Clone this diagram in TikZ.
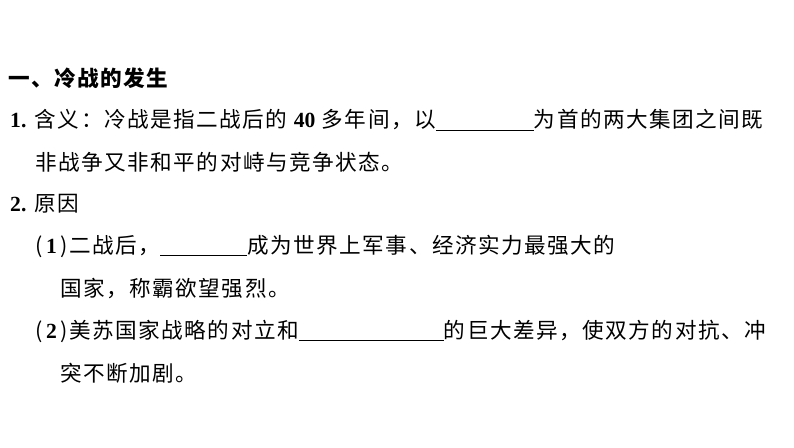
\documentclass[tikz,border=0pt]{standalone}
\usepackage{fontspec}
\setmainfont[LetterSpace=7]{Noto Sans CJK SC}
\newfontfamily\numf{Liberation Serif}
\newcommand{\blank}[1]{\rule[-3pt]{#1pt}{0.6pt}}
\begin{document}
\begin{tikzpicture}[x=1pt,y=-1pt,
  txt/.style={anchor=west,inner sep=0pt,font=\fontsize{21.6}{26}\selectfont}]
\useasboundingbox (0,0) rectangle (794,447);
\node[txt,font=\fontsize{21.6}{26}\selectfont\bfseries] (h) at (8,78) {一、冷战的发生};
\node[txt] (l1) at (10,120) {{\numf\bfseries 1.} 含义：冷战是指二战后的 {\numf\bfseries 40} 多年间，以\blank{98}为首的两大集团之间既};
\node[txt] (l2) at (35,162) {非战争又非和平的对峙与竞争状态。};
\node[txt] (l3) at (10,204) {{\numf\bfseries 2.} 原因};
\node[txt] (l4) at (35,246) {({\numf\bfseries\,1\,})二战后，\blank{87}成为世界上军事、经济实力最强大的};
\node[txt] (l5) at (60,289) {国家，称霸欲望强烈。};
\node[txt] (l6) at (35,331) {({\numf\bfseries\,2\,})美苏国家战略的对立和\blank{145}的巨大差异，使双方的对抗、冲};
\node[txt] (l7) at (60,373) {突不断加剧。};
\end{tikzpicture}
\end{document}
